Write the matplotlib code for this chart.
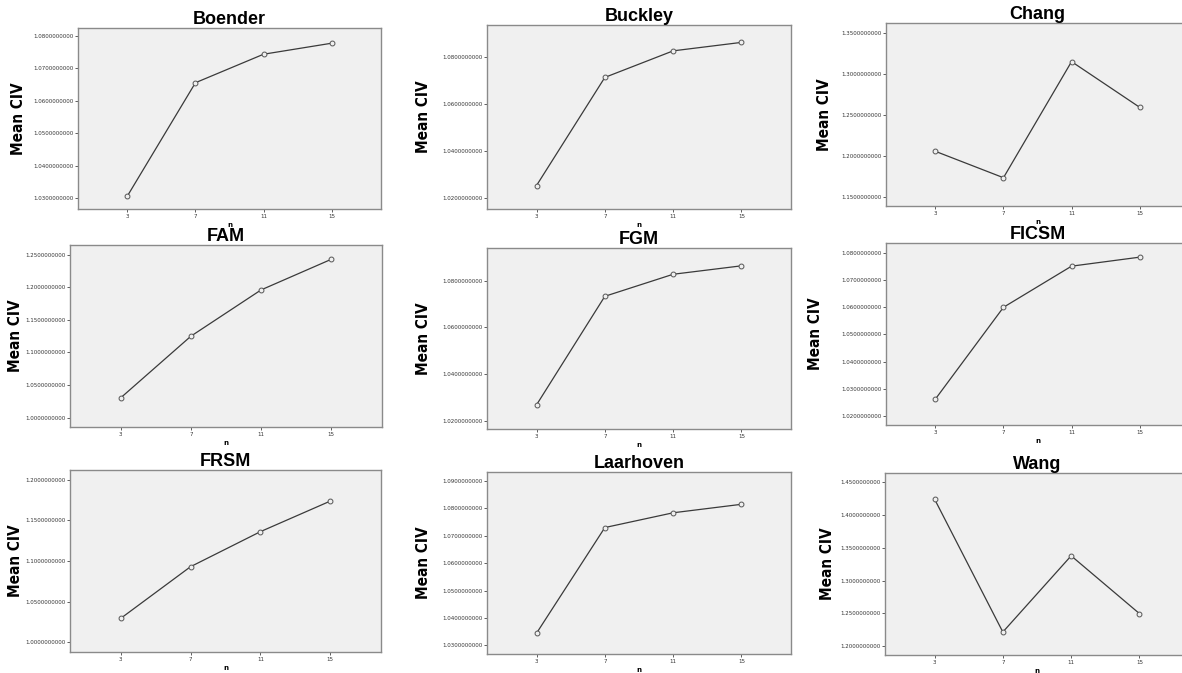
import matplotlib
matplotlib.use("Agg")
import matplotlib.pyplot as plt
from matplotlib.ticker import MultipleLocator, FormatStrFormatter
from matplotlib import font_manager

# data
n_values = [3, 7, 11, 15]
titles = ["Boender", "Buckley", "Chang", "FAM", "FGM", "FICSM",
          "FRSM", "Laarhoven", "Wang"]
boender = [1.0306, 1.0656, 1.0744, 1.0778]
buckley = [1.0255, 1.0715, 1.0828, 1.0864]
chang = [1.2057, 1.1735, 1.3151, 1.2594]
fam = [1.0306, 1.1250, 1.1959, 1.2428]
fgm = [1.0270, 1.0733, 1.0827, 1.0863]
ficsm = [1.0262, 1.0599, 1.0750, 1.0783]
frsm = [1.0294, 1.0930, 1.1361, 1.1737]
laarhoven = [1.0344, 1.0730, 1.0784, 1.0815]
wang = [1.4245, 1.2214, 1.3378, 1.2495]
series = [boender, buckley, chang, fam, fgm, ficsm, frsm, laarhoven, wang]

# y axis ranges and tick steps per panel
ylims = [(1.0266, 1.0825), (1.0155, 1.0938), (1.139, 1.3622),
         (0.9857, 1.2648), (1.0167, 1.0939), (1.0167, 1.0835),
         (0.9881, 1.2119), (1.0268, 1.0933), (1.1863, 1.4643)]
ysteps = [0.01, 0.02, 0.05, 0.05, 0.02, 0.01, 0.05, 0.01, 0.05]

# frame boxes in pixels: left, top, right, bottom
W, H = 1182, 673
boxes = [(78, 28, 381, 209), (487, 25, 791, 209), (886, 23, 1189, 206),
         (70, 245, 382, 427), (487, 248, 791, 429), (886, 243, 1189, 425),
         (70, 470, 381, 652), (487, 472, 791, 654), (885, 473, 1189, 655)]
label_x = [19, 424, 824, 16, 424, 815, 16, 424, 827]

# pick a condensed bold face for the y label if one is around
names = {f.name for f in font_manager.fontManager.ttflist}
if "Liberation Sans Narrow" in names:
    ylab_font = dict(family="Liberation Sans Narrow", fontsize=13)
else:
    ylab_font = dict(family="DejaVu Sans", fontstretch="condensed", fontsize=11)

fig = plt.figure(figsize=(W / 100, H / 100), dpi=100)
fig.patch.set_facecolor("white")

for i, (title, vals, ylim, step, (l, t, r, b)) in enumerate(
        zip(titles, series, ylims, ysteps, boxes)):
    ax = fig.add_axes([l / W, 1 - b / H, (r - l) / W, (b - t) / H])
    ax.set_facecolor("#f0f0f0")
    for s in ax.spines.values():
        s.set_color("#8a8a8a")
        s.set_linewidth(1.0)
    ax.plot(n_values, vals, color="#3a3a3a", lw=0.9, marker="o", ms=3.5,
            mfc="#f0f0f0", mec="#555555", mew=0.7)
    ax.set_xlim(0.1, 17.9)
    ax.set_ylim(*ylim)
    ax.set_xticks(n_values)
    ax.yaxis.set_major_locator(MultipleLocator(step))
    ax.yaxis.set_major_formatter(FormatStrFormatter("%.10f"))
    ax.tick_params(axis="both", labelsize=4, length=2.5, width=0.6,
                   color="#444444", labelcolor="#333333", pad=1)
    ax.set_title(title, fontsize=13, fontweight="bold",
                 family=["Liberation Sans", "DejaVu Sans"], pad=1.5)
    ax.set_xlabel("n", fontsize=5, fontweight="bold", labelpad=2)
    fig.text(label_x[i] / W, 1 - (t + b) / 2 / H, "Mean CIV", rotation=90,
             ha="center", va="center", fontweight="bold", **ylab_font)

fig.savefig("out.png", dpi=100)
